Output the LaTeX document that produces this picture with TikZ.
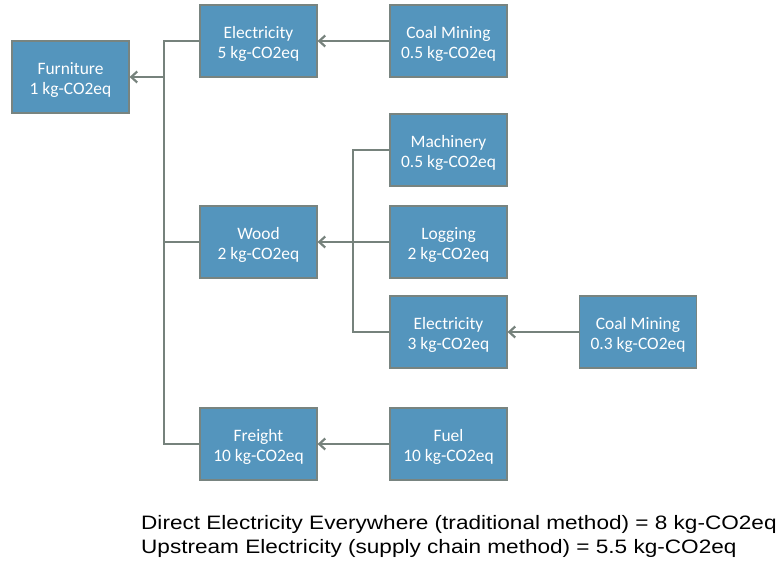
\documentclass[tikz,border=0pt]{standalone}
\usepackage{fontspec}
\setmainfont{Liberation Sans}
\newfontfamily\boxfont{Carlito}
\usetikzlibrary{arrows.meta}
\definecolor{boxfill}{RGB}{84,149,189}
\definecolor{boxline}{RGB}{120,132,128}
\definecolor{conn}{RGB}{118,130,124}
\newcommand\bxt[2]{\raisebox{-3.5bp}[\height][\depth]{\begin{tabular}{@{}c@{}}#1\\#2\end{tabular}}}
\begin{document}
\begin{tikzpicture}[x=1bp,y=-1bp,
  box/.style={draw=boxline,line width=1.2bp,fill=boxfill,minimum width=117bp,minimum height=72bp,
    text=white,font=\boxfont\fontsize{17.5}{20.5}\selectfont,inner sep=0pt},
  link/.style={draw=conn,line width=2.4bp},
  arr/.style={link,-{Straight Barb[length=6bp,width=11bp,line width=2.2bp]}},
  note/.style={anchor=base west,font=\fontsize{19.5}{24}\selectfont,inner sep=0pt}]
\useasboundingbox (0,0) rectangle (783,563);
\node[box] (furn) at (70.5,77) {\bxt{Furniture}{1 kg-CO2eq}};
\node[box] (elec1) at (258.5,41) {\bxt{Electricity}{5 kg-CO2eq}};
\node[box] (coal1) at (448.5,41) {\bxt{Coal Mining}{0.5 kg-CO2eq}};
\node[box] (mach) at (448.5,150) {\bxt{Machinery}{0.5 kg-CO2eq}};
\node[box] (wood) at (258.5,242) {\bxt{Wood}{2 kg-CO2eq}};
\node[box] (log) at (448.5,242) {\bxt{Logging}{2 kg-CO2eq}};
\node[box] (elec2) at (448.5,332) {\bxt{Electricity}{3 kg-CO2eq}};
\node[box] (coal2) at (638,332) {\bxt{Coal Mining}{0.3 kg-CO2eq}};
\node[box] (frt) at (258.5,444) {\bxt{Freight}{10 kg-CO2eq}};
\node[box] (fuel) at (448.5,444) {\bxt{Fuel}{10 kg-CO2eq}};
\coordinate (j1) at (164,77);
\coordinate (j2) at (353,242);
% tree 1
\draw[link] (elec1.west) -| (j1);
\draw[link] (frt.west) -| (j1);
\draw[link] (wood.west) -- (wood.west -| j1);
\draw[arr] (j1) -- (furn.east);
% tree 2
\draw[link] (mach.west) -| (j2);
\draw[link] (elec2.west) -| (j2);
\draw[link] (log.west) -- (j2);
\draw[arr] (j2) -- (wood.east);
% chains
\draw[arr] (coal1.west) -- (elec1.east);
\draw[arr] (coal2.west) -- (elec2.east);
\draw[arr] (fuel.west) -- (frt.east);
\node[note] (t1) at (141,529) {\scalebox{1.162}[1]{Direct Electricity Everywhere (traditional method) = 8 kg-CO2eq}};
\node[note] (t2) at (141,553) {\scalebox{1.162}[1]{Upstream Electricity (supply chain method) = 5.5 kg-CO2eq}};
\end{tikzpicture}
\end{document}
